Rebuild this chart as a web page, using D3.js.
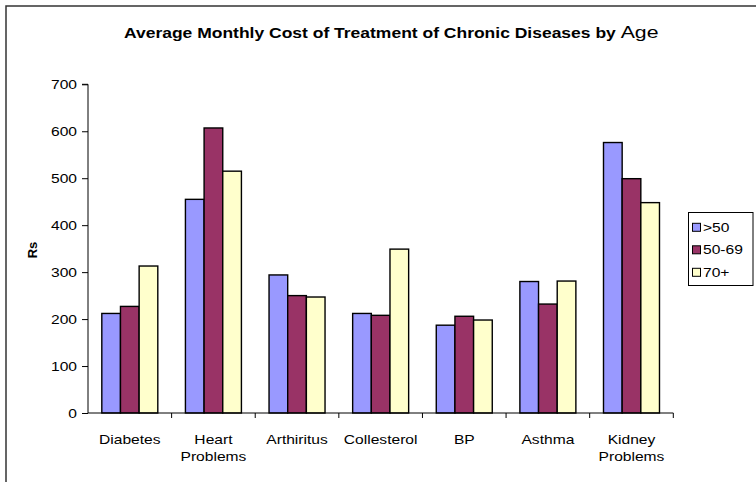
<!DOCTYPE html>
<html>
<head>
<meta charset="utf-8">
<script src="https://cdn.jsdelivr.net/npm/d3@7"></script>
<style>
  html, body { margin: 0; padding: 0; background: #fff; }
  svg { display: block; font-family: Arial, "Liberation Sans", sans-serif; }
</style>
</head>
<body>
<svg id="chart" width="756" height="482"></svg>
<script>
const categories = ["Diabetes", "Heart Problems", "Arthiritus", "Collesterol", "BP", "Asthma", "Kidney Problems"];
const seriesNames = [">50", "50-69", "70+"];
const seriesColors = ["#9999FF", "#993366", "#FFFFCC"];
const valsOver50 = [212, 455, 294, 212, 187, 280, 576];
const vals50to69 = [227, 607, 250, 208, 206, 232, 499];
const vals70plus = [313, 515, 247, 349, 198, 281, 448];
const yTicks = [0, 100, 200, 300, 400, 500, 600, 700];

const series = [valsOver50, vals50to69, vals70plus];
const SX = 1.2; // horizontal text stretch
const svg = d3.select("#chart");

// outer frame (top and left visible)
svg.append("path")
  .attr("d", "M6,482 L6,6 L756,6")
  .attr("fill", "none").attr("stroke", "#333").attr("stroke-width", 1.5);

const x0 = d3.scaleBand().domain(categories).range([88, 673.3]).paddingInner(0).paddingOuter(0);
const x1 = d3.scaleBand().domain(seriesNames).range([0, x0.bandwidth()]).paddingOuter(0.74).paddingInner(0);
const y = d3.scaleLinear().domain([0, 700]).range([413, 84.3]);

// y axis
const yAxis = d3.axisLeft(y).tickValues(yTicks).tickSize(6).tickPadding(5);
const gy = svg.append("g").attr("transform", "translate(88,0)").call(yAxis);
gy.select(".domain").attr("stroke", "#000").attr("d", `M-6,${y(700)}H0V${y(0)}`);
gy.selectAll(".tick line").attr("stroke", "#000");
gy.selectAll(".tick text")
  .attr("font-size", 13).attr("fill", "#000")
  .attr("font-family", "Arial, 'Liberation Sans', sans-serif")
  .attr("x", -11 / SX)
  .attr("transform", `scale(${SX},1)`);

// bars
const groups = svg.append("g").selectAll("g")
  .data(categories)
  .join("g")
  .attr("transform", d => `translate(${x0(d)},0)`);

groups.selectAll("rect")
  .data((c, i) => seriesNames.map((s, j) => ({ s, j, v: series[j][i] })))
  .join("rect")
  .attr("x", d => x1(d.s))
  .attr("y", d => y(d.v))
  .attr("width", x1.bandwidth())
  .attr("height", d => y(0) - y(d.v))
  .attr("fill", d => seriesColors[d.j])
  .attr("stroke", "#000")
  .attr("stroke-width", 1.4);

// x axis
const xAxis = d3.axisBottom(x0).tickSize(0).tickFormat("");
const gx = svg.append("g").attr("transform", `translate(0,${y(0)})`).call(xAxis);
gx.select(".domain").attr("stroke", "#000").attr("d", `M88,0H673.3`);
const bounds = categories.map(c => x0(c) + x0.bandwidth());
gx.selectAll(".btick").data(bounds).join("line")
  .attr("x1", d => d).attr("x2", d => d)
  .attr("y1", 0).attr("y2", 5)
  .attr("stroke", "#000");

// x labels
const labelG = svg.append("g");
categories.forEach(c => {
  const cx = x0(c) + x0.bandwidth() / 2;
  const t = labelG.append("text")
    .attr("transform", `translate(${cx},444) scale(${SX},1)`)
    .attr("text-anchor", "middle")
    .attr("font-size", 13)
    .attr("fill", "#000");
  c.split(" ").forEach((w, k) => {
    t.append("tspan").attr("x", 0).attr("dy", k === 0 ? 0 : 17).text(w);
  });
});

// y label
svg.append("text")
  .attr("transform", "translate(37,250) rotate(-90)")
  .attr("text-anchor", "middle")
  .attr("font-weight", "bold")
  .attr("font-size", 13)
  .text("Rs");

// title
const title = svg.append("text")
  .attr("transform", `translate(124,38) scale(1.25,1)`)
  .attr("text-anchor", "start")
  .attr("fill", "#000");
title.append("tspan").attr("font-weight", "bold").attr("font-size", 14)
  .text("Average Monthly Cost of Treatment of Chronic Diseases by ");
title.append("tspan").attr("font-size", 17).text("Age");

// legend
const lg = svg.append("g");
lg.append("rect").attr("x", 688.5).attr("y", 212.5).attr("width", 64.5).attr("height", 73)
  .attr("fill", "#fff").attr("stroke", "#000").attr("stroke-width", 1);
seriesNames.forEach((s, j) => {
  const cy = 227.3 + j * 22.5;
  lg.append("rect").attr("x", 692.5).attr("y", cy - 4).attr("width", 8).attr("height", 8)
    .attr("fill", seriesColors[j]).attr("stroke", "#000").attr("stroke-width", 1);
  lg.append("text")
    .attr("transform", `translate(703,${cy + 4.5}) scale(${SX},1)`)
    .attr("font-size", 13).text(s);
});
</script>
</body>
</html>
